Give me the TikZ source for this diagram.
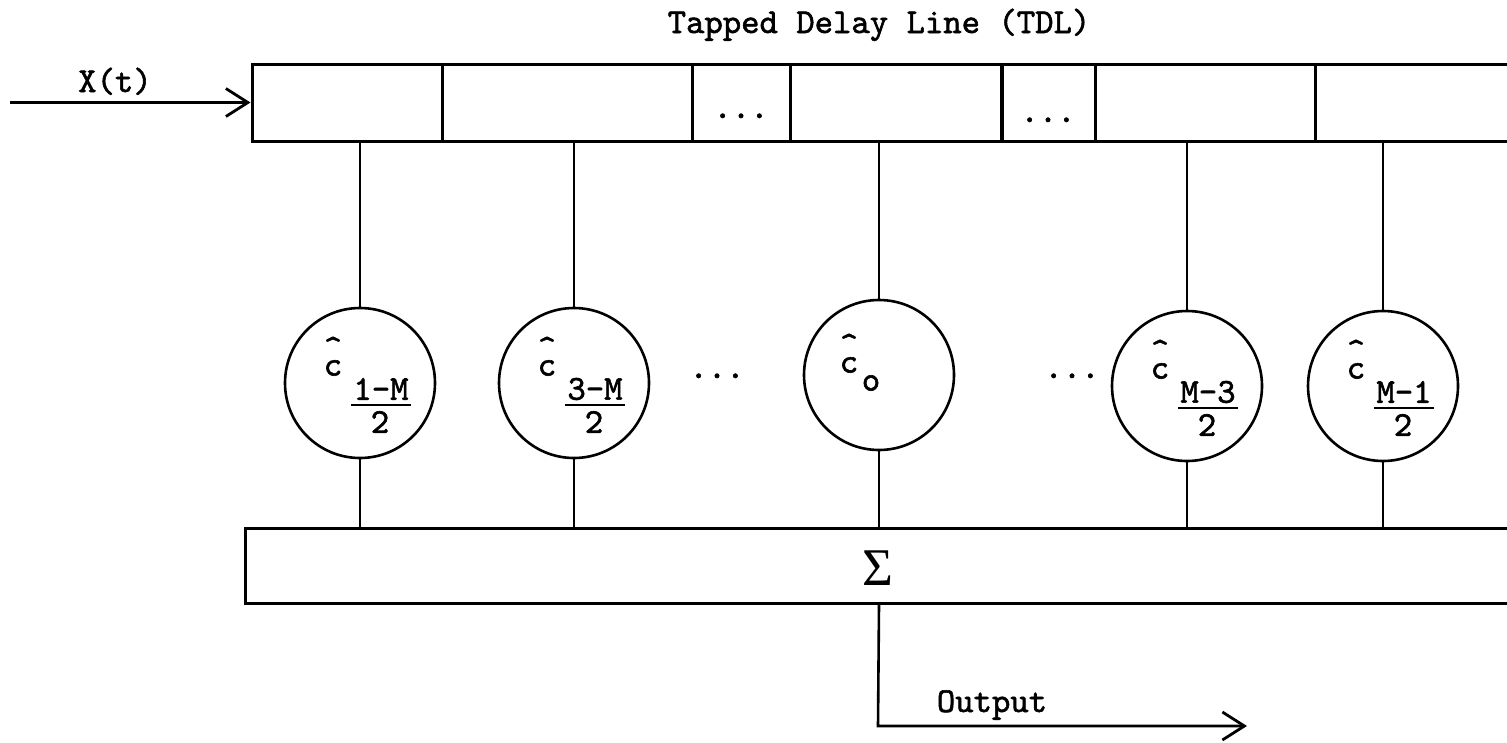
\documentclass[tikz,border=0pt]{standalone}
\usepackage{fontspec}
\newfontfamily\tw{lmmono10-regular}[Extension=.otf, FakeBold=1.6]
\newfontfamily\sigfont{Liberation Serif}
\usetikzlibrary{arrows.meta,calc}
\tikzset{
  x=1pt, y=-1pt,
  box/.style={draw, line width=3pt, inner sep=0pt, minimum height=77pt},
  tap/.style={line width=2.6pt},
  coef/.style={draw, circle, line width=2.6pt, minimum size=150pt, inner sep=0pt},
  lbl/.style={font=\tw\fontsize{35}{35}\selectfont, inner sep=0pt},
  chat/.style={font=\tw\fontsize{35}{35}\selectfont, inner sep=0pt, align=center, anchor=south},
  fracbar/.style={line width=2.6pt},
  arr/.style={line width=2.6pt, -{Straight Barb[length=22pt,width=28pt,line width=2.8pt]}},
}
\newcommand\coeflabel[2]{%
  \node[chat] at ($(#1)+(-27,-7)$) {\textasciicircum\\[-18pt]c};
  \node[lbl] at ($(#1)+(21,6)$) {#2};
  \draw[fracbar] ($(#1)+(-9,22)$) -- ($(#1)+(51,22)$);
  \node[lbl] at ($(#1)+(20,39)$) {2};
}
\begin{document}
\begin{tikzpicture}
\useasboundingbox (0,0) rectangle (1507,742);
\clip (0,0) rectangle (1507,742);

% title
\node[lbl, anchor=base] (title) at (879,33) {Tapped Delay Line (TDL)};

% tapped delay line cells
\node[box, minimum width=190pt] (d1) at (347,102.5) {};
\node[box, minimum width=250pt] (d2) at (567,102.5) {};
\node[box, minimum width=98pt]  (d3) at (741,102.5) {};
\node[box, minimum width=212pt] (d4) at (896,102.5) {};
\node[box, minimum width=94pt]  (d5) at (1048,102.5) {};
\node[box, minimum width=220pt] (d6) at (1205,102.5) {};
\node[box, minimum width=260pt] (d7) at (1445,102.5) {};
\node[lbl, anchor=base] (dots1) at (741,118) {...};
\node[lbl, anchor=base] (dots2) at (1048,122) {...};

% input
\coordinate (xin) at (10,102.5);
\draw[arr] (xin) -- (d1.west);
\node[lbl, anchor=base] (xlbl) at (115,92) {X(t)};

% coefficient circles
\node[coef] (c1) at (360,383) {};
\node[coef] (c2) at (574,383) {};
\node[coef] (c0) at (879,375) {};
\node[coef] (c4) at (1187,386) {};
\node[coef] (c5) at (1383,386) {};

\coeflabel{c1}{1-M}
\coeflabel{c2}{3-M}
\coeflabel{c4}{M-3}
\coeflabel{c5}{M-1}
\node[chat] at ($(c0)+(-30,-2)$) {\textasciicircum\\[-18pt]c};
\node[lbl] at ($(c0)+(-8,8)$) {o};

\node[lbl, anchor=base] (dots3) at (717,378) {...};
\node[lbl, anchor=base] (dots4) at (1072,378) {...};

% summing box
\node[box, minimum width=1400pt, minimum height=75pt] (sum) at (945,565.5) {};
\node[inner sep=0pt, font=\sigfont\fontsize{53}{53}\selectfont] (sigma) at (878,568) {Σ};

% taps
\foreach \c/\d in {c1/d1, c2/d2, c0/d4, c4/d6, c5/d7}{
  \draw[tap] (\c.north) -- (\c.north |- \d.south);
  \draw[tap] (\c.south) -- (\c.south |- sum.north);
}

% output
\coordinate (ocorner) at (878,726);
\coordinate (oend) at (1247,726);
\draw[arr] (sum.south -| c0.south) -- (ocorner) -- (oend);
\node[lbl, anchor=base] (olbl) at (992,712) {Output};
\end{tikzpicture}
\end{document}
